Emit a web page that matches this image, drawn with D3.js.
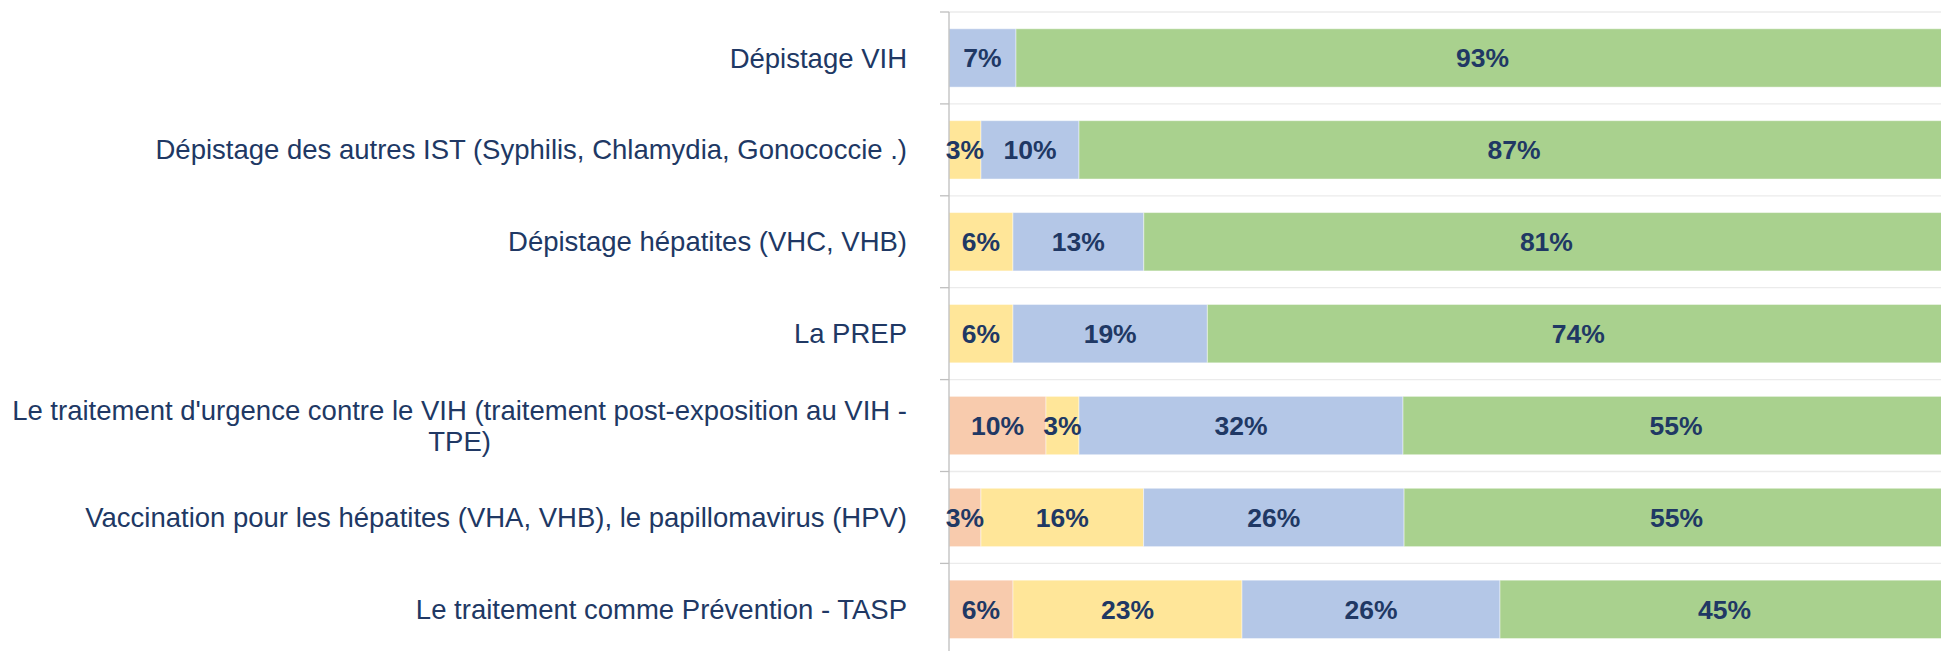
<!DOCTYPE html>
<html>
<head>
<meta charset="utf-8">
<script src="https://cdn.jsdelivr.net/npm/d3@7/dist/d3.min.js"></script>
<style>
  html, body { margin: 0; padding: 0; background: #ffffff; }
  svg { display: block; }
</style>
</head>
<body>
<svg id="chart" width="1941" height="651"></svg>
<script>
// ---- DATA ----
const categories = [
  "Dépistage VIH",
  "Dépistage des autres IST (Syphilis, Chlamydia, Gonococcie .)",
  "Dépistage hépatites (VHC, VHB)",
  "La PREP",
  "Le traitement d'urgence contre le VIH (traitement post-exposition au VIH - TPE)",
  "Vaccination pour les hépatites (VHA, VHB), le papillomavirus (HPV)",
  "Le traitement comme Prévention - TASP"
];
const seriesNames = ["Série 1", "Série 2", "Série 3", "Série 4"];
// values (%); labels show them rounded
const serie1 = [0, 0, 0, 0, 9.7, 3.2, 6.4];
const serie2 = [0, 3.2, 6.4, 6.4, 3.3, 16.3, 22.9];
const serie3 = [6.7, 9.8, 13.1, 19.45, 32.4, 26.1, 25.8];
const serie4 = [93.3, 87.0, 80.6, 74.2, 54.6, 54.6, 44.9];
const seriesValues = [serie1, serie2, serie3, serie4];

// ---- STYLE ----
const colors = ["#f8cbad", "#ffe699", "#b4c7e7", "#a9d18e"];
const textColor = "#203864";
const W = 1941, H = 651;
const axisX = 949, plotRight = 1949, plotTop = 12, plotBottom = 655.3;

const rows = categories.map((c, i) => {
  const r = { category: c };
  seriesNames.forEach((s, j) => r[s] = seriesValues[j][i]);
  return r;
});

const stack = d3.stack().keys(seriesNames).offset(d3.stackOffsetExpand);
const stacked = stack(rows);

const x = d3.scaleLinear().domain([0, 1]).range([axisX, plotRight]);
const y = d3.scaleBand().domain(categories).range([plotTop, plotBottom])
  .paddingInner(0.365).paddingOuter(0.1825);

const svg = d3.select("#chart");
const step = y.step();

// gridlines at category boundaries
const bounds = d3.range(categories.length + 1).map(i => plotTop + i * step);
svg.append("g").selectAll("line").data(bounds).join("line")
  .attr("x1", axisX).attr("x2", W)
  .attr("y1", d => d).attr("y2", d => d)
  .attr("stroke", "#ebebeb").attr("stroke-width", 1.3);

// bars
const gs = svg.append("g").selectAll("g").data(stacked).join("g")
  .attr("fill", (d, i) => colors[i]);
gs.selectAll("rect").data(d => d.map(v => ({ v, key: d.key }))).join("rect")
  .attr("x", d => x(d.v[0]))
  .attr("y", d => y(d.v.data.category))
  .attr("width", d => Math.max(0, x(d.v[1]) - x(d.v[0])))
  .attr("height", y.bandwidth())
  .attr("stroke", "#ffffff").attr("stroke-opacity", 0.45).attr("stroke-width", 1);

// axis line + ticks
svg.append("line").attr("x1", axisX).attr("x2", axisX)
  .attr("y1", plotTop).attr("y2", plotBottom)
  .attr("stroke", "#bfbfbf").attr("stroke-width", 1.3);
svg.append("g").selectAll("line").data(bounds).join("line")
  .attr("x1", axisX - 9).attr("x2", axisX)
  .attr("y1", d => d).attr("y2", d => d)
  .attr("stroke", "#bfbfbf").attr("stroke-width", 1.3);

// data labels
const labelsG = svg.append("g")
  .attr("font-family", "'Liberation Sans', Arial, sans-serif")
  .attr("font-weight", "bold").attr("font-size", 26.5).attr("fill", textColor)
  .attr("text-anchor", "middle");
stacked.forEach(layer => {
  layer.forEach(v => {
    const val = v.data[layer.key];
    if (!val) return;
    labelsG.append("text")
      .attr("x", (x(v[0]) + x(v[1])) / 2)
      .attr("y", y(v.data.category) + y.bandwidth() / 2)
      .attr("dy", "0.36em")
      .text(Math.round(val) + "%");
  });
});

// category labels
const labelRight = 907, maxWidth = 925;
const catG = svg.append("g")
  .attr("font-family", "'Liberation Sans', Arial, sans-serif")
  .attr("font-size", 27.5).attr("fill", textColor);
categories.forEach(c => {
  const cy = y(c) + y.bandwidth() / 2;
  const words = c.split(" ");
  const lines = [];
  let cur = [];
  const probe = catG.append("text");
  words.forEach(w => {
    const test = cur.concat([w]).join(" ");
    probe.text(test);
    if (probe.node().getComputedTextLength() > maxWidth && cur.length) {
      lines.push(cur.join(" "));
      cur = [w];
    } else cur.push(w);
  });
  lines.push(cur.join(" "));
  probe.text(lines[0]);
  const w0 = probe.node().getComputedTextLength();
  probe.remove();
  const lh = 31;
  const cx = labelRight - w0 / 2;
  lines.forEach((ln, k) => {
    catG.append("text")
      .attr("x", lines.length > 1 ? cx : labelRight)
      .attr("text-anchor", lines.length > 1 ? "middle" : "end")
      .attr("y", cy + (k - (lines.length - 1) / 2) * lh)
      .attr("dy", "0.35em")
      .text(ln);
  });
});
</script>
</body>
</html>
